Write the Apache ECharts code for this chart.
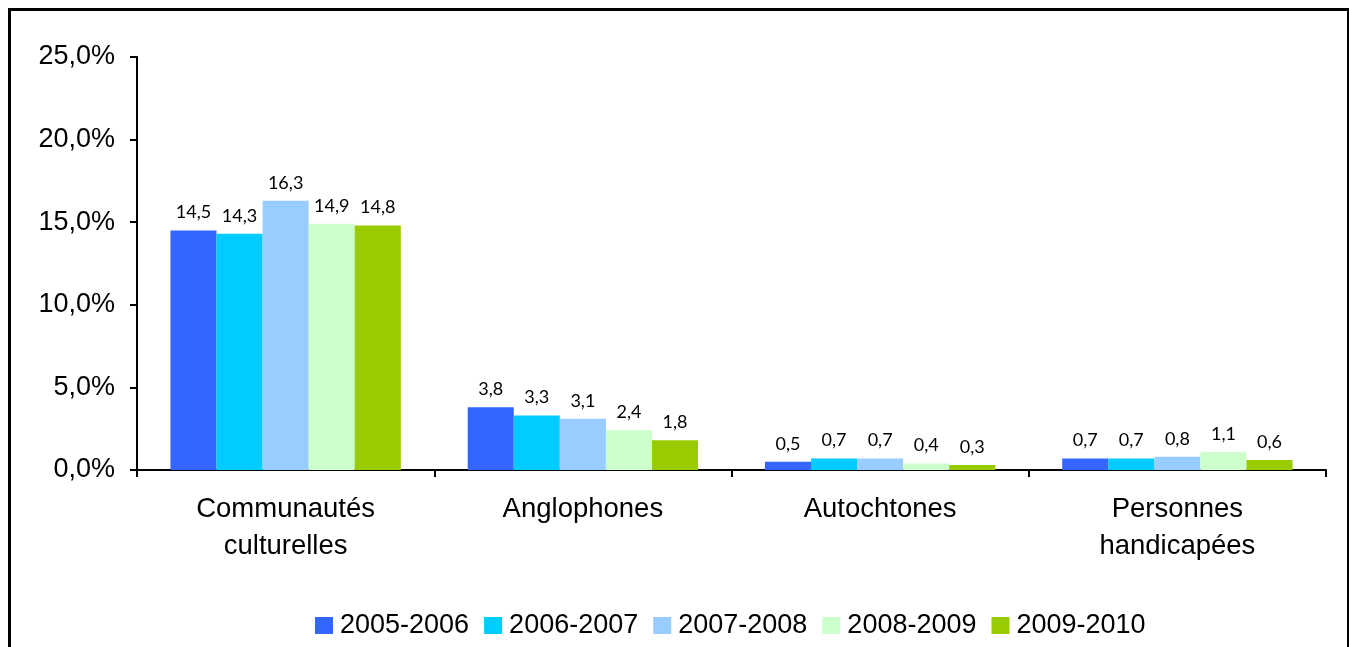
<!DOCTYPE html>
<html>
<head>
<meta charset="utf-8">
<script src="https://cdn.jsdelivr.net/npm/echarts@6/dist/echarts.min.js"></script>
<style>
html,body{margin:0;padding:0;background:#fff;}
#c{width:1349px;height:647px;}
</style>
</head>
<body>
<div id="c"></div>
<script>
const categories = ['Communautés\nculturelles', 'Anglophones', 'Autochtones', 'Personnes\nhandicapées'];
const seriesNames = ['2005-2006', '2006-2007', '2007-2008', '2008-2009', '2009-2010'];
const s2005 = [14.5, 3.8, 0.5, 0.7];
const s2006 = [14.3, 3.3, 0.7, 0.7];
const s2007 = [16.3, 3.1, 0.7, 0.8];
const s2008 = [14.9, 2.4, 0.4, 1.1];
const s2009 = [14.8, 1.8, 0.3, 0.6];
const colors = ['#3366FF', '#00CCFF', '#99CCFF', '#CCFFCC', '#99CC00'];
const yTicks = [0, 5, 10, 15, 20, 25];

const allData = [s2005, s2006, s2007, s2008, s2009];
const chart = echarts.init(document.getElementById('c'));
chart.setOption({
  animation: false,
  backgroundColor: '#fff',
  graphic: [{
    type: 'rect', left: 7, top: 7, z: 100,
    shape: { width: 1339, height: 700 },
    style: { fill: 'none', stroke: '#000', lineWidth: 3 }
  }],
  grid: { left: 137, right: 23, top: 57, bottom: 177 },
  legend: {
    data: seriesNames,
    icon: 'rect',
    bottom: 3,
    left: 310,
    itemWidth: 18,
    itemHeight: 17,
    itemGap: 15,
    textStyle: { fontFamily: 'Liberation Sans', fontSize: 27, color: '#000', padding: [0, 0, 0, 2] }
  },
  xAxis: {
    type: 'category',
    data: categories,
    axisLine: { lineStyle: { color: '#000', width: 2 } },
    axisTick: { show: true, length: 7, lineStyle: { color: '#000', width: 2 } },
    axisLabel: { fontFamily: 'Liberation Sans', fontSize: 27.5, color: '#000', margin: 21, lineHeight: 37 }
  },
  yAxis: {
    type: 'value',
    min: 0, max: 25, interval: 5,
    axisLine: { show: true, lineStyle: { color: '#000', width: 2 } },
    axisTick: { show: true, length: 7, lineStyle: { color: '#000', width: 2 } },
    splitLine: { show: false },
    axisLabel: {
      fontFamily: 'Liberation Sans', fontSize: 27, color: '#000', margin: 22,
      formatter: v => v.toFixed(1).replace('.', ',') + '%'
    }
  },
  series: seriesNames.map((n, i) => ({
    name: n,
    type: 'bar',
    data: allData[i],
    barGap: '0%',
    barCategoryGap: '22.5%',
    itemStyle: { color: colors[i] },
    label: {
      show: true, position: 'top', distance: 9,
      fontFamily: 'Lato', fontSize: 18, color: '#000',
      formatter: p => p.value.toFixed(1).replace('.', ',')
    }
  }))
});
</script>
</body>
</html>
